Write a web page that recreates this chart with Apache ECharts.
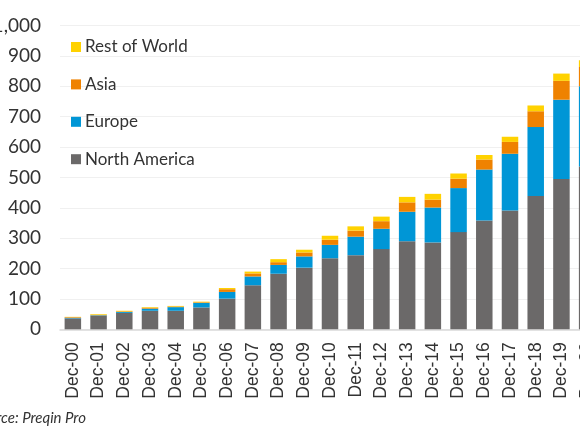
<!DOCTYPE html>
<html>
<head>
<meta charset="utf-8">
<script src="https://cdn.jsdelivr.net/npm/echarts@6/dist/echarts.min.js"></script>
<style>
  html, body { margin: 0; padding: 0; background: #fff; }
  #chart { width: 580px; height: 435px; }
</style>
</head>
<body>
<div id="chart"></div>
<script>
// AUM by region, Dec-00 .. Dec-20
const years = ["Dec-00", "Dec-01", "Dec-02", "Dec-03", "Dec-04", "Dec-05", "Dec-06",
  "Dec-07", "Dec-08", "Dec-09", "Dec-10", "Dec-11", "Dec-12", "Dec-13", "Dec-14",
  "Dec-15", "Dec-16", "Dec-17", "Dec-18", "Dec-19", "Dec-20"];
const northAmerica = [36, 44, 54, 61, 61, 72, 101, 145, 183, 203, 234, 244, 264, 290, 286, 320, 358, 391, 439, 495, 536];
const europe = [2, 2, 3, 7, 12, 15, 22, 29, 29, 37, 44, 61, 67, 97, 115, 145, 168, 187, 227, 261, 264];
const asia = [2, 2, 2, 3, 2, 2, 9, 10, 9, 13, 17, 20, 25, 31, 26, 31, 33, 39, 52, 62, 64];
const restOfWorld = [1, 2, 2, 2, 2, 2, 4, 6, 10, 9, 13, 14, 15, 18, 19, 17, 15, 17, 19, 24, 22];
const yTicks = [0, 1000, 100];

const colors = {
  "North America": "#6b6969",
  "Europe": "#0096d6",
  "Asia": "#ef8200",
  "Rest of World": "#ffd200"
};

let myChart = echarts.init(document.getElementById("chart"));

function barSeries(name, data) {
  return {
    name: name,
    type: "bar",
    stack: "total",
    barWidth: 16.5,
    itemStyle: { color: colors[name] },
    data: data
  };
}

let option = {
  animation: false,
  textStyle: { fontFamily: "Lato" },
  // plot runs past the right edge: Dec-20 is cut like in the source
  grid: { left: 60, top: 25.6, width: 540, height: 303.7, outerBoundsMode: "none", containLabel: false },
  legend: {
    orient: "vertical",
    left: 66,
    top: 32,
    icon: "rect",
    itemWidth: 10,
    itemHeight: 10,
    itemGap: 17.4,
    textStyle: { fontFamily: "Lato", fontSize: 17, color: "#333", lineHeight: 20, padding: [0, 0, 0, -1] },
    data: ["Rest of World", "Asia", "Europe", "North America"]
  },
  xAxis: {
    type: "category",
    data: years,
    axisTick: { show: false },
    axisLine: { lineStyle: { color: "#d9d9d9", width: 1.5 } },
    axisLabel: {
      rotate: 90,
      margin: 13,
      interval: 0,
      fontFamily: "Liberation Sans",
      fontSize: 17.5,
      color: "#333"
    }
  },
  yAxis: {
    type: "value",
    min: yTicks[0],
    max: yTicks[1],
    interval: yTicks[2],
    axisLine: { show: false },
    axisTick: { show: false },
    splitLine: { lineStyle: { color: "#f0f0f0", width: 1.2 } },
    axisLabel: {
      margin: 19,
      fontFamily: "Lato",
      fontSize: 19,
      color: "#333",
      formatter: function (v) { return v.toLocaleString("en-US"); }
    }
  },
  graphic: [{
    type: "text",
    right: 580 - 86,
    top: 411,
    style: {
      text: "Source: Preqin Pro",
      font: "italic 15px Lato",
      fill: "#333"
    }
  }],
  series: [
    barSeries("North America", northAmerica),
    barSeries("Europe", europe),
    barSeries("Asia", asia),
    barSeries("Rest of World", restOfWorld)
  ]
};

myChart.setOption(option);
window.addEventListener("resize", myChart.resize);
</script>
</body>
</html>
